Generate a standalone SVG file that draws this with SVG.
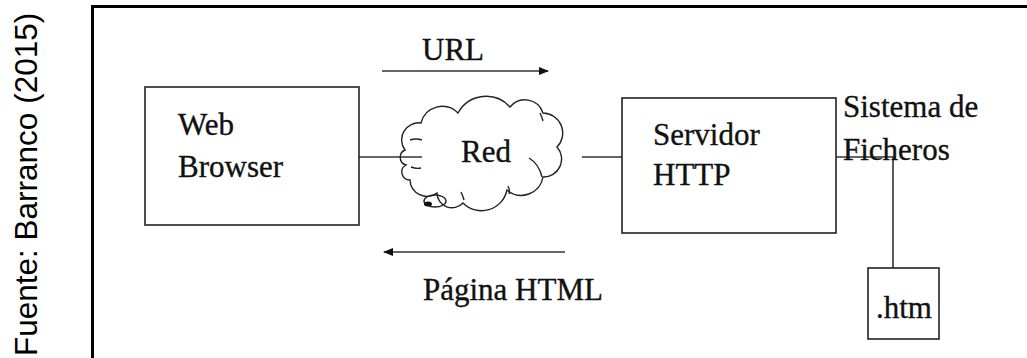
<svg xmlns="http://www.w3.org/2000/svg" width="1027" height="358" viewBox="0 0 1027 358">
<defs>
<style>
.t{font-family:"Liberation Serif","Times New Roman",serif;font-size:31px;fill:#111;stroke:#111;stroke-width:0.35}
.box{fill:#fff;stroke:#222;stroke-width:1.6}
.ln{stroke:#333;stroke-width:1.6;fill:none}
.cl{stroke:#222;stroke-width:1.4;fill:none}
</style>
<marker id="ah" viewBox="0 0 10 10" refX="9" refY="5" markerWidth="10" markerHeight="10" markerUnits="userSpaceOnUse" orient="auto">
<path d="M0,1 L10,5 L0,9 Z" fill="#111"/>
</marker>
</defs>
<rect width="1027" height="358" fill="#fff"/>
<text transform="translate(37,356) rotate(-90)" font-family="Liberation Sans, Arial, sans-serif" font-size="31.5" fill="#000">Fuente: Barranco (2015)</text>
<rect x="92.5" y="6.5" width="1000" height="400" fill="none" stroke="#000" stroke-width="3"/>

<g id="connectors">
<line class="ln" x1="359" y1="157" x2="422" y2="157"/>
<line class="ln" x1="582" y1="157" x2="622" y2="157"/>
<polyline class="ln" points="836,157 893,157 893,268"/>
<line class="ln" x1="382" y1="71" x2="548" y2="71" marker-end="url(#ah)"/>
<line class="ln" x1="565" y1="252" x2="384" y2="252" marker-end="url(#ah)"/>
<text class="t" x="422" y="60">URL</text>
<text class="t" x="423" y="300">Página HTML</text>
</g>

<g id="browser">
<rect class="box" x="145" y="87" width="214" height="138"/>
<text class="t" x="178" y="135">Web</text>
<text class="t" x="178" y="177">Browser</text>
</g>

<g id="red">
<path class="cl" fill="#fff" d="M405,150 A17,17 0 0 1 421,123 A22,22 0 0 1 458,113 A32,32 0 0 1 510,107 A19,19 0 0 1 543,113 A20,20 0 0 1 557,147 A18,18 0 0 1 543,177 A22,22 0 0 1 507,190 A26,26 0 0 1 463,203 A15,15 0 0 1 437,193 A17,17 0 0 1 410,180 A8,8 0 0 1 406,165 A8,8 0 0 1 405,150 Z"/>
<path class="cl" d="M410,140 q6,-2 12,0 M411,167 q5,2 10,1 M529,158 q10,6 13,19 M540,113 q2,4 3,8 M508,186 q2,4 1,8 M461,192 q2,4 3,8"/>
<ellipse class="cl" cx="435" cy="201" rx="11" ry="6"/>
<ellipse cx="428" cy="204" rx="4" ry="2.5" fill="#111"/>
<text class="t" x="461" y="162">Red</text>
</g>

<g id="servidor">
<rect class="box" x="622" y="98" width="214" height="135"/>
<text class="t" x="653" y="145">Servidor</text>
<text class="t" x="653" y="185">HTTP</text>
</g>

<g id="sistema">
<text class="t" x="843" y="117">Sistema de</text>
<text class="t" x="843" y="160">Ficheros</text>
</g>

<g id="htm">
<rect class="box" x="868" y="268" width="71" height="71"/>
<text class="t" x="876" y="318">.htm</text>
</g>
</svg>
